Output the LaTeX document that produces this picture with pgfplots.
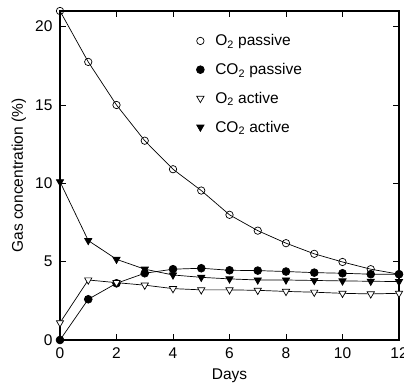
\documentclass[border=0pt]{standalone}
\usepackage{pgfplots}
\pgfplotsset{compat=1.18}
\usepackage{fontspec}
\setmainfont{Liberation Sans}
\newcommand{\ff}{\fontsize{15.5}{17}\selectfont}
\begin{document}
\begin{tikzpicture}
\begin{axis}[
  name=ax,
  scale only axis,
  width=339pt, height=329pt,
  xmin=0, xmax=12, ymin=0, ymax=21,
  xtick={0,2,...,12}, ytick={0,5,...,20},
  clip=false,
  axis line style={line width=1.1pt},
  major tick length=6pt,
  tick style={line width=0.9pt, black},
  /pgf/number format/assume math mode=true,
  tick label style={font=\ff},
  xticklabel style={yshift=-4pt},
  yticklabel style={xshift=-4pt},
  label style={font=\ff},
  xlabel={Days},
  ylabel={Gas concentration (\%)},
  xlabel style={at={(axis description cs:0.5,-0.109)}, anchor=center},
  ylabel style={at={(axis description cs:-0.121,0.5)}, anchor=center, rotate=0},
  legend style={font=\ff, draw=none, fill=none, at={(rel axis cs:0.402,0.935)}, anchor=north west, row sep=12pt, column sep=9pt, inner sep=0pt},
  legend cell align=left,
  legend image code/.code={\draw[mark repeat=2,mark phase=2,only marks,#1] plot coordinates {(0cm,0cm) (0.15cm,0cm) (0.3cm,0cm)};},
  every axis plot/.append style={black, line width=0.7pt},
]
\addplot[mark=o, mark size=3.7pt, mark options={fill=white, solid}] coordinates {
(0,21.0) (1,17.75) (2,15.0) (3,12.72) (4,10.9) (5,9.54) (6,7.99) (7,6.98) (8,6.18) (9,5.5) (10,4.98) (11,4.52) (12,4.2)};
\addlegendentry{O\textsubscript{2} passive}
\addplot[mark=*, mark size=3.9pt, mark options={fill=black, solid}] coordinates {
(0,0) (1,2.6) (2,3.62) (3,4.26) (4,4.52) (5,4.58) (6,4.45) (7,4.43) (8,4.37) (9,4.3) (10,4.26) (11,4.2) (12,4.2)};
\addlegendentry{CO\textsubscript{2} passive}
\addplot[mark=triangle*, mark size=4.2pt, mark options={fill=white, rotate=180, solid}] coordinates {
(0,1.1) (1,3.83) (2,3.66) (3,3.5) (4,3.28) (5,3.2) (6,3.2) (7,3.17) (8,3.1) (9,3.05) (10,2.98) (11,2.94) (12,2.98)};
\addlegendentry{O\textsubscript{2} active}
\addplot[mark=triangle*, mark size=4.2pt, mark options={fill=black, rotate=180, solid}] coordinates {
(0,10.1) (1,6.35) (2,5.15) (3,4.52) (4,4.15) (5,4.0) (6,3.9) (7,3.83) (8,3.83) (9,3.8) (10,3.77) (11,3.75) (12,3.73)};
\addlegendentry{CO\textsubscript{2} active}
\end{axis}
\pgfresetboundingbox
\path ([shift={(-60pt,-47pt)}]ax.south west) rectangle ([shift={(5pt,11pt)}]ax.north east);
\end{tikzpicture}
\end{document}
